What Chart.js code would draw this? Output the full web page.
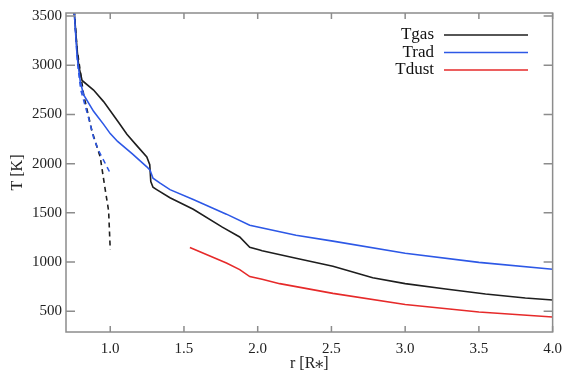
<!DOCTYPE html>
<html>
<head>
<meta charset="utf-8">
<script src="https://cdn.jsdelivr.net/npm/chart.js@4"></script>
<style>
    html, body { margin: 0; padding: 0; background: #fff; }
    canvas { display: block; }
</style>
</head>
<body>
<canvas id="tempChart" width="570" height="373"></canvas>
<script>
// Temperature profiles T(r) for gas, radiation and dust

const xTicks = [1.0, 1.5, 2.0, 2.5, 3.0, 3.5, 4.0];
const yTicks = [500, 1000, 1500, 2000, 2500, 3000, 3500];

// Tgas (solid)
const rGas = [0.755, 0.775, 0.786, 0.809, 0.887, 0.955, 1.056, 1.113, 1.18, 1.248, 1.268, 1.275, 1.29, 1.315, 1.405, 1.563, 1.76, 1.878, 1.946, 2.014, 2.03, 2.26, 2.51, 2.78, 3.0, 3.275, 3.545, 3.815, 4.0];
const tGas = [3560, 3165, 2995, 2845, 2747, 2630, 2420, 2299, 2183, 2067, 1990, 1819, 1760, 1736, 1653, 1537, 1355, 1255, 1150, 1123, 1116, 1040, 957, 841, 781, 726, 676, 636, 615];

// Trad (solid)
const rRad = [0.755, 0.775, 0.797, 0.82, 0.887, 0.955, 1.0, 1.05, 1.15, 1.248, 1.27, 1.29, 1.338, 1.405, 1.563, 1.788, 1.946, 2.26, 2.51, 3.0, 3.5, 4.0];
const tRad = [3560, 3095, 2830, 2697, 2531, 2399, 2305, 2225, 2100, 1968, 1934, 1852, 1802, 1736, 1636, 1487, 1375, 1272, 1213, 1090, 997, 928];

// Tdust (solid)
const rDust = [1.54, 1.788, 1.878, 1.946, 2.03, 2.149, 2.51, 3.0, 3.5, 4.0];
const tDust = [1148, 990, 924, 853, 825, 781, 682, 570, 493, 443];

// Tgas, inner model (dashed)
const rGasIn = [0.755, 0.775, 0.82, 0.876, 0.932, 0.966, 0.989, 1.0];
const tGasIn = [3560, 3165, 2697, 2330, 2067, 1736, 1521, 1125];

// Trad, inner model (dashed)
const rRadIn = [0.755, 0.78, 0.80, 0.853, 0.887, 0.921, 0.995, 1.0];
const tRadIn = [3560, 3000, 2750, 2465, 2266, 2133, 1918, 1910];

const legendNames = ['Tgas', 'Trad', 'Tdust'];
const colGas = '#1e1e1e';
const colRad = '#2d58e6';
const colDust = '#e62a2a';

function toPoints(xs, ys) {
    return xs.map((x, i) => ({ x: x, y: ys[i] }));
}

function series(xs, ys, color, dash) {
    return {
        data: toPoints(xs, ys),
        showLine: true,
        borderColor: color,
        backgroundColor: color,
        borderWidth: 1.6,
        borderDash: dash || [],
        pointRadius: 0,
        tension: 0
    };
}

// box around the plot with inward ticks on all four sides
const framePlugin = {
    id: 'frame',
    afterDraw(chart) {
        const ctx = chart.ctx;
        const a = chart.chartArea;
        const sx = chart.scales.x;
        const sy = chart.scales.y;
        ctx.save();
        ctx.strokeStyle = '#8c8c8c';
        ctx.lineWidth = 1.5;
        ctx.strokeRect(a.left, a.top, a.right - a.left, a.bottom - a.top);
        ctx.beginPath();
        xTicks.forEach(v => {
            const px = sx.getPixelForValue(v);
            ctx.moveTo(px, a.bottom); ctx.lineTo(px, a.bottom - 6);
            ctx.moveTo(px, a.top); ctx.lineTo(px, a.top + 6);
        });
        yTicks.forEach(v => {
            const py = sy.getPixelForValue(v);
            ctx.moveTo(a.left, py); ctx.lineTo(a.left + 9, py);
            ctx.moveTo(a.right, py); ctx.lineTo(a.right - 9, py);
        });
        ctx.stroke();

        // legend, text right-aligned with line sample to the right
        const colors = [colGas, colRad, colDust];
        ctx.font = '17px "Liberation Serif", "DejaVu Serif", serif';
        ctx.textAlign = 'right';
        ctx.textBaseline = 'middle';
        legendNames.forEach((name, i) => {
            const y = 35 + i * 17.5;
            ctx.fillStyle = '#111';
            ctx.fillText(name, 434, y);
            ctx.strokeStyle = colors[i];
            ctx.lineWidth = 1.4;
            ctx.beginPath();
            ctx.moveTo(444, y);
            ctx.lineTo(528, y);
            ctx.stroke();
        });
        ctx.restore();
    }
};

const serif = '"Liberation Serif", "DejaVu Serif", serif';

new Chart(document.getElementById('tempChart'), {
    type: 'scatter',
    data: {
        datasets: [
            series(rDust, tDust, colDust),
            series(rRad, tRad, colRad),
            series(rGas, tGas, colGas),
            series(rRadIn, tRadIn, colRad, [5, 4]),
            series(rGasIn, tGasIn, colGas, [5, 4])
        ]
    },
    options: {
        responsive: false,
        animation: false,
        layout: {
            padding: { top: 6, right: 16, left: 0, bottom: 0 }
        },
        plugins: {
            legend: { display: false },
            tooltip: { enabled: false }
        },
        scales: {
            x: {
                type: 'linear',
                min: 0.7,
                max: 4.0,
                afterBuildTicks: scale => { scale.ticks = xTicks.map(v => ({ value: v })); },
                afterFit: scale => { scale.height = 41; },
                grid: { display: false, drawTicks: false },
                border: { display: false },
                ticks: {
                    padding: 8,
                    color: '#222',
                    font: { family: serif, size: 15 },
                    maxRotation: 0,
                    callback: v => Number(v).toFixed(1)
                },
                title: {
                    display: true,
                    text: 'r [R\u204E]',
                    color: '#222',
                    font: { family: serif, size: 16 },
                    padding: { top: 0, bottom: 0 }
                }
            },
            y: {
                type: 'linear',
                min: 290,
                max: 3530,
                afterBuildTicks: scale => { scale.ticks = yTicks.map(v => ({ value: v })); },
                afterFit: scale => { scale.width = 66; },
                grid: { display: false, drawTicks: false },
                border: { display: false },
                ticks: {
                    padding: 4,
                    color: '#222',
                    font: { family: serif, size: 15 },
                    callback: v => String(v)
                },
                title: {
                    display: true,
                    text: 'T [K]',
                    color: '#222',
                    font: { family: serif, size: 16 },
                    padding: { top: 8, bottom: 0 }
                }
            }
        }
    },
    plugins: [framePlugin]
});
</script>
</body>
</html>
